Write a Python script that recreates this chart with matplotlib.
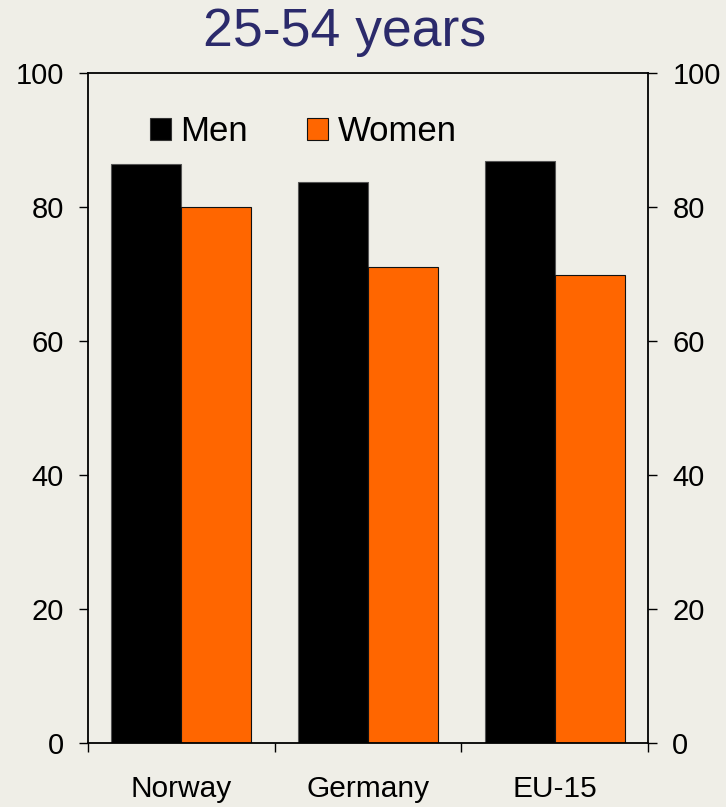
import matplotlib
matplotlib.use("Agg")
import matplotlib.pyplot as plt
import numpy as np
from matplotlib.patches import Patch

plt.rcParams['font.family'] = ['Liberation Sans', 'DejaVu Sans']

categories = ["Norway", "Germany", "EU-15"]
men = [86.4, 83.8, 86.8]
women = [80.0, 71.0, 69.8]
yticks = [0, 20, 40, 60, 80, 100]
title = "25-54 years"

bg = "#EFEEE7"
men_color = "#000000"
women_color = "#FF6600"

fig = plt.figure(figsize=(7.26, 8.07), dpi=100, facecolor=bg)
ax = fig.add_axes([88 / 726, 1 - 743 / 807, 560 / 726, 670 / 807], facecolor=bg)

x = np.arange(len(categories))
w = 0.375
ax.bar(x - w / 2, men, width=w, color=men_color, edgecolor="#555555", linewidth=0.8, label="Men")
ax.bar(x + w / 2, women, width=w, color=women_color, edgecolor="#111111", linewidth=0.8, label="Women")

ax.set_xlim(-0.5, len(categories) - 0.5)
ax.set_ylim(0, 100)
ax.set_yticks(yticks)
ax.set_xticks(x)
ax.set_xticklabels(categories)
ax.set_xticks(np.arange(len(categories) + 1) - 0.5, minor=True)

for s in ax.spines.values():
    s.set_linewidth(1.3)
    s.set_color("black")

ax.tick_params(axis="y", which="both", direction="out", length=6.5, width=1.0,
               left=True, right=True, labelleft=True, labelright=True,
               labelsize=21, pad=11)
ax.tick_params(axis="x", which="major", length=0, labelsize=21.5, pad=23)
ax.tick_params(axis="x", which="minor", direction="out", length=6.5, width=1.0)

handles = [Patch(facecolor=men_color, edgecolor="#333333", linewidth=0.8),
           Patch(facecolor=women_color, edgecolor="#111111", linewidth=0.8)]
ax.legend(handles, ["Men", "Women"], ncol=2, frameon=False, fontsize=25,
          loc="center left", bbox_to_anchor=(0.1107, 0.912), borderpad=0,
          borderaxespad=0, handlelength=0.6, handleheight=0.6,
          handletextpad=0.28, columnspacing=1.7)

fig.text(345 / 726, 1 - 32 / 807, title, ha="center", va="center",
         fontsize=38.5, color="#2B2A6B")

fig.savefig("out.png", dpi=100, facecolor=bg)
